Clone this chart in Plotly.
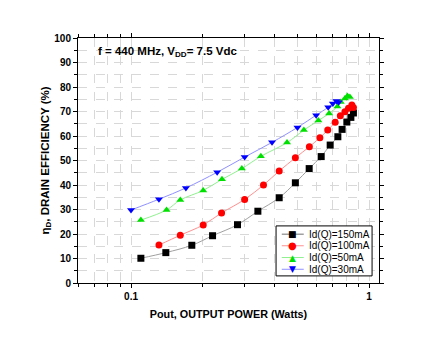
import plotly.graph_objects as go

# Data
x_150 = [0.110, 0.140, 0.180, 0.220, 0.280, 0.341, 0.419, 0.490, 0.560, 0.629, 0.686, 0.739, 0.770, 0.806, 0.838, 0.859]
y_150 = [10.1, 12.4, 15.4, 19.3, 23.8, 29.3, 34.8, 40.9, 46.7, 51.6, 56.3, 59.7, 62.7, 65.7, 67.6, 69.4]

x_100 = [0.131, 0.161, 0.201, 0.240, 0.300, 0.360, 0.419, 0.490, 0.561, 0.621, 0.670, 0.720, 0.757, 0.791, 0.819, 0.846, 0.859]
y_100 = [15.5, 19.5, 23.7, 28.6, 34.1, 40.0, 45.7, 51.1, 55.6, 59.3, 62.4, 65.6, 68.3, 69.9, 71.3, 72.7, 71.6]

x_50 = [0.110, 0.141, 0.161, 0.201, 0.241, 0.292, 0.351, 0.452, 0.532, 0.612, 0.679, 0.736, 0.760, 0.791, 0.811, 0.830]
y_50 = [25.7, 29.8, 33.9, 37.8, 42.3, 46.7, 51.7, 57.3, 62.4, 66.3, 69.2, 72.0, 73.9, 75.3, 76.3, 75.9]

x_30 = [0.100, 0.131, 0.170, 0.230, 0.300, 0.391, 0.500, 0.599, 0.673, 0.704, 0.729, 0.745]
y_30 = [29.8, 34.2, 38.8, 45.2, 51.4, 57.4, 63.5, 68.5, 71.7, 73.3, 74.3, 73.8]

names = ["Id(Q)=150mA", "Id(Q)=100mA", "Id(Q)=50mA", "Id(Q)=30mA"]
x_tick_vals = [0.1, 1]
x_tick_text = ["0.1", "1"]
y_tick_vals = [0, 10, 20, 30, 40, 50, 60, 70, 80, 90, 100]

series = [
    (x_150, y_150, names[0], "#000000", "#a0a0a0", "square", "■"),
    (x_100, y_100, names[1], "#ff0000", "#ff9090", "circle", "●"),
    (x_50, y_50, names[2], "#00e000", "#90f090", "triangle-up", "▲"),
    (x_30, y_30, names[3], "#0000ff", "#9090ff", "triangle-down", "▼"),
]

FONT = "Liberation Sans, Arial, sans-serif"
fig = go.Figure()
for xs, ys, nm, mc, lc, sym, _ in series:
    fig.add_trace(go.Scatter(
        x=xs, y=ys, name=nm, mode="lines+markers",
        line=dict(color=lc, width=1, shape="spline"),
        marker=dict(symbol=sym, color=mc, size=7, line=dict(width=0)),
        showlegend=False,
    ))

minor_x = [0.06, 0.07, 0.08, 0.09, 0.2, 0.3, 0.4, 0.5, 0.6, 0.7, 0.8, 0.9]
fig.update_layout(
    width=440, height=341,
    margin=dict(l=78, r=61, t=38, b=58),
    paper_bgcolor="white", plot_bgcolor="white",
    font=dict(family=FONT, color="black"),
    showlegend=False,
    xaxis=dict(
        type="log", range=[-1.2227, 0.0414],
        tickmode="array", tickvals=x_tick_vals, ticktext=x_tick_text,
        ticks="outside", ticklen=4, tickcolor="black",
        showline=True, linecolor="black", linewidth=1, mirror="ticks",
        showgrid=True, gridcolor="#d8d8d8", griddash="dash", gridwidth=1,
        tickfont=dict(family=FONT, size=10, color="black", weight="bold"),
        minor=dict(tickmode="array", tickvals=minor_x, ticks="outside", ticklen=3,
                   tickcolor="black", showgrid=True, gridcolor="#d8d8d8", griddash="dash"),
        title=dict(text="<b>Pout, OUTPUT POWER (Watts)</b>", font=dict(family=FONT, size=10.8), standoff=9),
        zeroline=False,
    ),
    yaxis=dict(
        range=[0, 100],
        tickmode="array", tickvals=y_tick_vals,
        ticks="outside", ticklen=4, tickcolor="black",
        showline=True, linecolor="black", linewidth=1, mirror="ticks",
        showgrid=True, gridcolor="#d8d8d8", griddash="dash", gridwidth=1,
        tickfont=dict(family=FONT, size=10, color="black", weight="bold"),
        minor=dict(dtick=5, tick0=0, ticks="outside", ticklen=3, tickcolor="black",
                   showgrid=True, gridcolor="#d8d8d8", griddash="dash"),
        title=dict(text="<b>η<sub>D</sub>, DRAIN EFFICIENCY (%)</b>", font=dict(family=FONT, size=11.5), standoff=2),
        zeroline=False,
    ),
)
fig.add_annotation(
    x=0.06, y=0.98, xref="paper", yref="paper", xanchor="left", yanchor="top",
    text="<b>f = 440 MHz, V<sub>DD</sub>= 7.5 Vdc</b>", showarrow=False,
    font=dict(family=FONT, size=11.5, color="black"),
)

# Compact legend box (drawn manually to match the reference's tight spacing)
fig.add_shape(type="rect", xref="paper", yref="paper", x0=0.658, x1=0.977, y0=0.029, y1=0.233,
              line=dict(color="black", width=1), fillcolor="white", layer="above")
row_y = [0.199, 0.152, 0.104, 0.056]
sym_size = [9, 10, 9, 9]
for i, (xs, ys, nm, mc, lc, sym, glyph) in enumerate(series):
    fig.add_shape(type="line", xref="paper", yref="paper", x0=0.677, x1=0.750, y0=row_y[i], y1=row_y[i],
                  line=dict(color=lc, width=1.5 if i == 0 else 1), layer="above")
    fig.add_annotation(x=0.714, y=row_y[i], xref="paper", yref="paper", xanchor="center", yanchor="middle",
                       text=glyph, showarrow=False,
                       font=dict(family="DejaVu Sans", size=sym_size[i], color=mc))
    fig.add_annotation(x=0.762, y=row_y[i], xref="paper", yref="paper", xanchor="left", yanchor="middle",
                       text=nm, showarrow=False, font=dict(family=FONT, size=10, color="black"))

fig.write_html("out.html")
